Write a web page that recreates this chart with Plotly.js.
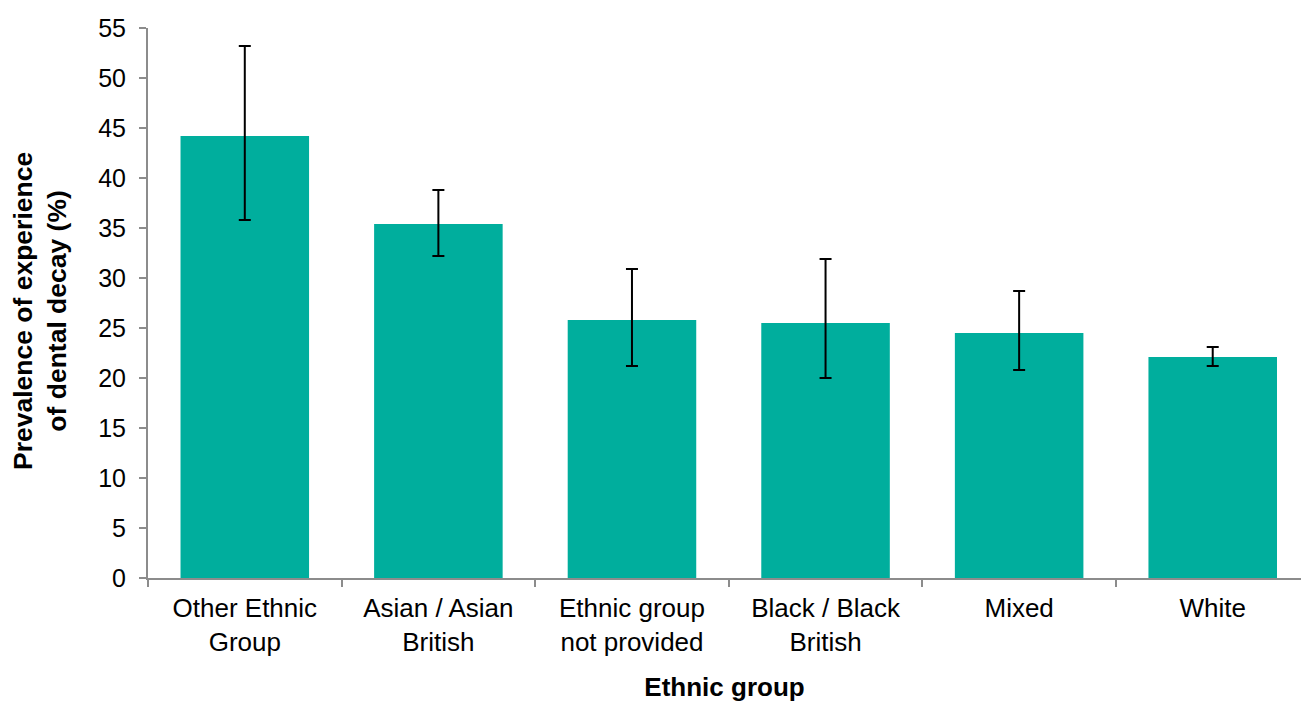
<!DOCTYPE html>
<html>
<head>
<meta charset="utf-8">
<script src="https://cdn.plot.ly/plotly-3.0.1.min.js"></script>
<style>
  html, body { margin: 0; padding: 0; background: #ffffff; }
  #chart { width: 1301px; height: 702px; }
</style>
</head>
<body>
<div id="chart"></div>
<script>
// Prevalence of experience of dental decay by ethnic group, with 95% confidence limits
const categories = [
  'Other Ethnic<br>Group',
  'Asian / Asian<br>British',
  'Ethnic group<br>not provided',
  'Black / Black<br>British',
  'Mixed',
  'White'
];
const prevalence = [44.2, 35.4, 25.8, 25.5, 24.5, 22.1];
const lowerCI = [35.8, 32.2, 21.2, 20.0, 20.8, 21.2];
const upperCI = [53.2, 38.8, 30.9, 31.9, 28.7, 23.1];
const yTitle = 'Prevalence of experience<br>of dental decay (%)';
const xTitle = 'Ethnic group';

const errPlus = prevalence.map((v, i) => upperCI[i] - v);
const errMinus = prevalence.map((v, i) => v - lowerCI[i]);

const axisGrey = '#8c8c8c';
const font = 'Liberation Sans, Arial, sans-serif';

const trace = {
  type: 'bar',
  x: categories,
  y: prevalence,
  marker: { color: '#00ae9d' },
  error_y: {
    type: 'data',
    symmetric: false,
    array: errPlus,
    arrayminus: errMinus,
    color: '#000000',
    thickness: 2,
    width: 6
  },
  hoverinfo: 'x+y'
};

const layout = {
  width: 1301,
  height: 702,
  margin: { l: 148, r: 0, t: 28, b: 124 },
  paper_bgcolor: '#ffffff',
  plot_bgcolor: '#ffffff',
  bargap: 0.336,
  showlegend: false,
  font: { family: font, color: '#000000' },
  xaxis: {
    type: 'category',
    range: [-0.5, 5.456],
    showline: true,
    linecolor: axisGrey,
    linewidth: 2,
    ticks: 'outside',
    tickson: 'boundaries',
    ticklen: 7,
    tickwidth: 2,
    tickcolor: axisGrey,
    ticklabelstandoff: 6,
    tickfont: { family: font, size: 26, color: '#000000' },
    showgrid: false,
    zeroline: false,
    title: {
      text: xTitle,
      font: { family: font, size: 26, color: '#000000', weight: 'bold' },
      standoff: 24
    }
  },
  yaxis: {
    range: [0, 55],
    dtick: 5,
    tick0: 0,
    showline: true,
    linecolor: axisGrey,
    linewidth: 2,
    ticks: 'outside',
    ticklen: 7,
    tickwidth: 2,
    tickcolor: axisGrey,
    ticklabelstandoff: 8,
    tickfont: { family: font, size: 25, color: '#000000' },
    showgrid: false,
    zeroline: false
  },
  annotations: [{
    text: yTitle,
    textangle: -90,
    xref: 'paper',
    yref: 'paper',
    x: 0,
    y: 0.5,
    xanchor: 'center',
    yanchor: 'middle',
    xshift: -108,
    yshift: -8,
    showarrow: false,
    align: 'center',
    font: { family: font, size: 26.5, color: '#000000', weight: 'bold' }
  }]
};

Plotly.newPlot('chart', [trace], layout, { displayModeBar: false, staticPlot: true });
</script>
</body>
</html>
